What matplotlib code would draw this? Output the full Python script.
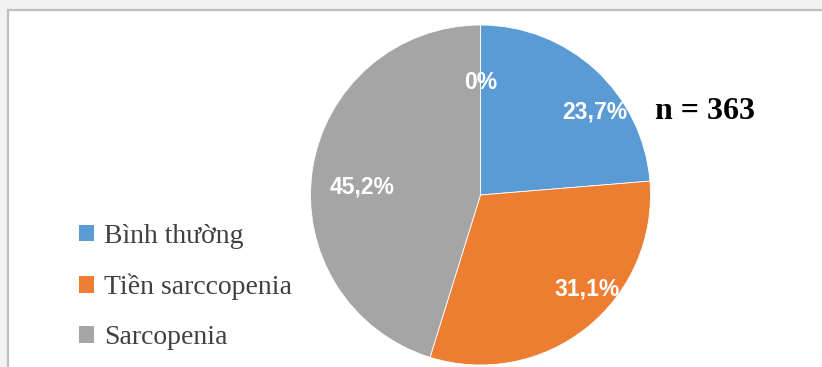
import numpy as np
import matplotlib
matplotlib.use("Agg")
import matplotlib.pyplot as plt
from matplotlib.patches import Rectangle

# sarcopenia status, n = 363
categories = ["Bình thường", "Tiền sarccopenia", "Sarcopenia", ""]
shares = [23.7, 31.1, 45.2, 0.0]
pct_labels = ["23,7%", "31,1%", "45,2%", "0%"]
colors = ["#5B9BD5", "#ED7D31", "#A5A5A5", "#FFC000"]
sample_note = "n = 363"

# label placement (angle in degrees, radius as fraction of pie radius)
label_angle = [36.0, -41.5, 176.0, 90.0]
label_radius = [0.83, 0.835, 0.70, 0.66]

W, H = 822, 367
fig = plt.figure(figsize=(W / 100, H / 100), dpi=100)
fig.patch.set_facecolor("#F2F2F2")

# white chart area with grey border on top/left
frame = Rectangle((8 / W, -0.05), 1.2, (H - 10) / H + 0.05,
                  transform=fig.transFigure, facecolor="white",
                  edgecolor="#BFBFBF", linewidth=1.6, zorder=-1)
fig.patches.append(frame)

r_px = 170
cx, cy = 480.5, H - 195
ax = fig.add_axes([(cx - r_px) / W, (cy - r_px) / H, 2 * r_px / W, 2 * r_px / H])
ax.set_zorder(2)
ax.set_facecolor("none")

wedges, _ = ax.pie(shares, colors=colors, startangle=90, counterclock=False,
                   wedgeprops=dict(edgecolor="white", linewidth=0.6))
wedges[3].set_visible(False)
ax.set_xlim(-1, 1)
ax.set_ylim(-1, 1)
ax.set_aspect("equal")
ax.axis("off")

for txt, ang, rad in zip(pct_labels, label_angle, label_radius):
    a = np.deg2rad(ang)
    ax.text(rad * np.cos(a), rad * np.sin(a), txt, ha="center", va="center",
            color="white", fontsize=16.5, fontweight="bold",
            family="Liberation Sans")

fig.text(705 / W, (H - 112) / H, sample_note, ha="center", va="center",
         fontsize=23, fontweight="bold", family="Liberation Serif",
         color="black", zorder=3)

leg = fig.legend(handles=wedges[:3], labels=categories[:3],
                 loc="center left", bbox_to_anchor=(79 / W, (H - 287) / H),
                 frameon=False, borderpad=0, borderaxespad=0,
                 handlelength=0.55, handleheight=0.55, handletextpad=0.35,
                 labelspacing=0.9,
                 prop=dict(family="Liberation Serif", size=20))
leg.set_zorder(3)
for t in leg.get_texts():
    t.set_color("#404040")
for h in leg.legend_handles:
    h.set_edgecolor("none")

fig.savefig("out.png", dpi=100, facecolor=fig.get_facecolor())
